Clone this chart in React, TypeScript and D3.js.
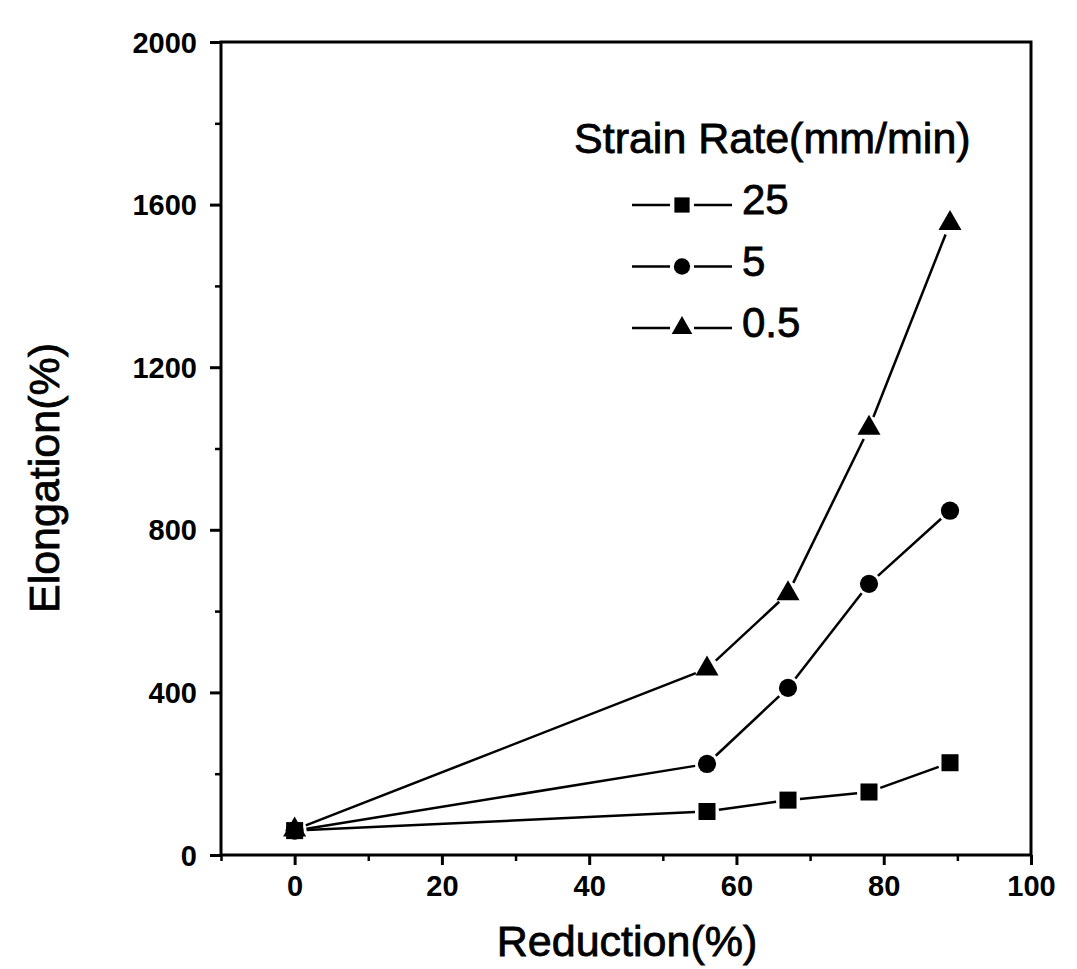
import * as React from 'react'
import * as d3 from 'd3'

const reduction = [0, 56, 67, 78, 89]
const rate25 = [60, 107, 135, 155, 227]
const rate5 = [60, 224, 411, 667, 847]
const rate05 = [62, 458, 643, 1050, 1554]
const seriesNames = ['25', '5', '0.5']
const xTicks = [0, 20, 40, 60, 80, 100]
const yTicks = [0, 400, 800, 1200, 1600, 2000]

const FONT = '"Liberation Sans", Arial, sans-serif'

export default function App() {
  const ref = React.useRef(null)

  React.useEffect(() => {
    document.body.style.margin = '0'
    const width = 1077
    const height = 969
    const margin = { top: 42, right: 46, bottom: 114, left: 221 }

    const x = d3.scaleLinear().domain([-10, 100]).range([margin.left, width - margin.right])
    const y = d3.scaleLinear().domain([0, 2000]).range([height - margin.bottom, margin.top])

    const svg = d3.select(ref.current)
      .attr('width', width)
      .attr('height', height)
      .style('display', 'block')
      .style('background', '#fff')
    svg.selectAll('*').remove()

    const series = [
      { name: seriesNames[0], values: rate25, symbol: d3.symbolSquare, size: 290 },
      { name: seriesNames[1], values: rate5, symbol: d3.symbolCircle, size: 260 },
      { name: seriesNames[2], values: rate05, symbol: d3.symbolTriangle, size: 230 },
    ]

    // frame
    const [x0, x1] = x.range()
    const [y0, y1] = y.range()
    svg.append('rect')
      .attr('x', x0).attr('y', y1)
      .attr('width', x1 - x0).attr('height', y0 - y1)
      .attr('fill', 'none').attr('stroke', '#000').attr('stroke-width', 3)

    // x axis
    const xAxis = d3.axisBottom(x).tickValues(xTicks).tickSize(10).tickSizeOuter(0).tickFormat(d3.format('d'))
    const gx = svg.append('g').attr('transform', `translate(0,${y0})`).call(xAxis)
    gx.select('.domain').remove()
    gx.selectAll('line').attr('stroke-width', 3)
    gx.selectAll('text')
      .attr('font-family', FONT).attr('font-size', 29).attr('font-weight', 'bold').attr('fill', '#000')
      .attr('dy', 0).attr('y', 41)

    const xMinor = d3.axisBottom(x).tickValues([-10, 10, 30, 50, 70, 90]).tickSize(6).tickFormat(() => '')
    const gxm = svg.append('g').attr('transform', `translate(0,${y0})`).call(xMinor)
    gxm.select('.domain').remove()
    gxm.selectAll('line').attr('stroke-width', 2.5)

    // y axis
    const yAxis = d3.axisLeft(y).tickValues(yTicks).tickSize(11).tickSizeOuter(0).tickFormat(d3.format('d'))
    const gy = svg.append('g').attr('transform', `translate(${x0},0)`).call(yAxis)
    gy.select('.domain').remove()
    gy.selectAll('line').attr('stroke-width', 3)
    gy.selectAll('text')
      .attr('font-family', FONT).attr('font-size', 29).attr('font-weight', 'bold').attr('fill', '#000')
      .attr('x', -24).attr('dy', '0.35em')

    const yMinor = d3.axisLeft(y).tickValues([200, 600, 1000, 1400, 1800]).tickSize(6).tickFormat(() => '')
    const gym = svg.append('g').attr('transform', `translate(${x0},0)`).call(yMinor)
    gym.select('.domain').remove()
    gym.selectAll('line').attr('stroke-width', 2.5)

    // axis titles
    svg.append('text')
      .attr('x', 627).attr('y', 956)
      .attr('text-anchor', 'middle')
      .attr('font-family', FONT).attr('font-size', 43)
      .attr('stroke', '#000').attr('stroke-width', 0.8)
      .text('Reduction(%)')

    svg.append('text')
      .attr('transform', 'translate(59,478) rotate(-90)')
      .attr('text-anchor', 'middle')
      .attr('font-family', FONT).attr('font-size', 43)
      .attr('stroke', '#000').attr('stroke-width', 0.8)
      .text('Elongation(%)')

    // series lines with small gaps at markers
    const gap = 12
    series.forEach(s => {
      const pts = reduction.map((r, i) => [x(r), y(s.values[i])])
      for (let i = 0; i < pts.length - 1; i++) {
        const [ax, ay] = pts[i]
        const [bx, by] = pts[i + 1]
        const len = Math.hypot(bx - ax, by - ay)
        const ux = (bx - ax) / len
        const uy = (by - ay) / len
        svg.append('line')
          .attr('x1', ax + ux * gap).attr('y1', ay + uy * gap)
          .attr('x2', bx - ux * gap).attr('y2', by - uy * gap)
          .attr('stroke', '#000').attr('stroke-width', 2.5)
      }
      svg.append('g').selectAll('path')
        .data(s.values)
        .enter().append('path')
        .attr('transform', (d, i) => `translate(${x(reduction[i])},${y(d)})`)
        .attr('d', d3.symbol().type(s.symbol).size(s.size))
        .attr('fill', '#000')
    })

    // legend
    const legend = svg.append('g')
    legend.append('text')
      .attr('x', 574).attr('y', 153)
      .attr('font-family', FONT).attr('font-size', 43)
      .attr('stroke', '#000').attr('stroke-width', 0.8)
      .text('Strain Rate(mm/min)')

    const rowY = d3.scalePoint().domain(seriesNames).range([205, 328])
    series.forEach(s => {
      const ry = rowY(s.name)
      legend.append('line')
        .attr('x1', 632).attr('x2', 670).attr('y1', ry).attr('y2', ry)
        .attr('stroke', '#000').attr('stroke-width', 2.5)
      legend.append('line')
        .attr('x1', 694).attr('x2', 732).attr('y1', ry).attr('y2', ry)
        .attr('stroke', '#000').attr('stroke-width', 2.5)
      legend.append('path')
        .attr('transform', `translate(682,${ry})`)
        .attr('d', d3.symbol().type(s.symbol).size(s.size * 0.8))
        .attr('fill', '#000')
      legend.append('text')
        .attr('x', 742).attr('y', ry + 9)
        .attr('font-family', FONT).attr('font-size', 42)
        .attr('stroke', '#000').attr('stroke-width', 0.8)
        .text(s.name)
    })
  }, [])

  return <svg ref={ref} />
}
